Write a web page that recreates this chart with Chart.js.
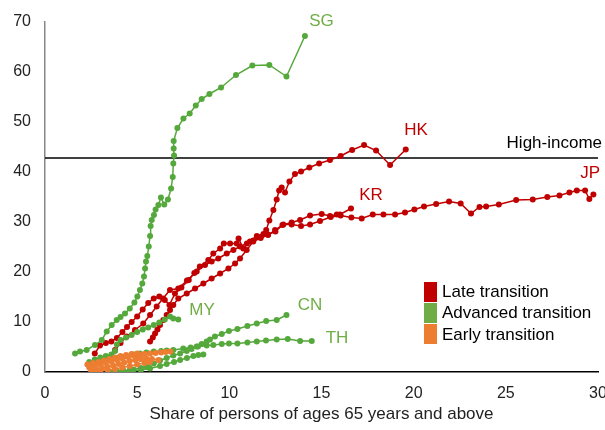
<!DOCTYPE html>
<html>
<head>
<meta charset="utf-8">
<script src="https://cdn.jsdelivr.net/npm/chart.js@4"></script>
<style>body{margin:0;background:#fff}</style>
</head>
<body>
<canvas id="chart" width="605" height="430"></canvas>
<script>
// [share 65+, ratio] pairs
const SG = [[1.63,3.7],[1.9,4.1],[2.26,4.4],[2.71,5.4],[3.08,6.4],[3.35,8.1],[3.62,9.4],[3.89,10.4],[4.1,11.0],[4.34,11.7],[4.6,12.7],[4.85,13.9],[5.01,15.1],[5.15,16.4],[5.28,17.7],[5.37,19.1],[5.43,20.7],[5.48,22.1],[5.55,23.2],[5.63,25.1],[5.7,27.2],[5.73,29.2],[5.79,30.4],[5.91,31.4],[6.0,32.5],[6.15,33.4],[6.29,34.9],[6.47,33.5],[6.67,34.5],[6.84,36.7],[6.93,39.0],[6.96,41.7],[7.0,43.3],[6.98,44.7],[6.98,46.2],[7.18,48.8],[7.51,50.7],[7.85,51.7],[8.18,53.3],[8.5,54.6],[8.92,55.6],[9.55,56.9],[10.36,59.4],[11.25,61.3],[12.17,61.4],[13.1,59.1],[14.1,67.2]];
const MY = [[2.4,2.0],[2.7,2.5],[3.0,2.9],[3.3,3.2],[3.6,3.5],[3.8,4.2],[3.9,5.5],[4.1,6.4],[4.4,6.9],[4.7,7.4],[5.0,8.0],[5.3,8.5],[5.6,8.9],[5.9,9.4],[6.2,9.9],[6.5,10.5],[6.78,11.1],[6.96,10.7],[7.23,10.5]];
const CN = [[3.5,0.1],[3.9,0.2],[4.25,0.3],[4.6,0.4],[4.8,0.5],[5.2,0.8],[5.5,1.1],[5.9,1.7],[6.24,2.3],[6.6,2.8],[6.96,3.3],[7.33,3.7],[7.69,4.2],[7.95,4.6],[8.23,5.1],[8.5,5.6],[8.77,6.1],[8.95,6.5],[9.22,7.1],[9.59,7.6],[9.98,8.2],[10.44,8.6],[10.98,9.2],[11.49,9.7],[12.0,10.2],[12.57,10.4],[13.1,11.4]];
const TH = [[2.44,1.4],[2.8,1.8],[3.2,2.2],[3.6,2.6],[4.0,2.9],[4.4,3.2],[4.8,3.5],[5.15,3.7],[5.5,3.9],[5.9,4.1],[6.3,4.2],[6.6,4.3],[6.96,4.4],[7.5,4.7],[7.9,4.9],[8.3,5.1],[8.77,5.3],[9.13,5.4],[9.59,5.6],[9.98,5.7],[10.44,5.7],[10.98,5.9],[11.49,6.1],[11.99,6.3],[12.57,6.5],[13.17,6.6],[13.84,6.2],[14.47,6.2]];
const VN = [[3.7,0.0],[4.2,0.1],[4.7,0.2],[5.2,0.4],[5.7,0.7],[6.24,1.2],[6.6,1.6],[7.0,2.0],[7.33,2.4],[7.7,2.8],[8.05,3.2],[8.32,3.4],[8.59,3.5]];
const HK = [[2.7,3.7],[2.98,5.3],[3.3,5.8],[3.6,6.1],[3.9,6.8],[4.2,8.0],[4.45,9.0],[4.7,10.0],[5.0,11.1],[5.3,12.5],[5.6,13.8],[5.9,14.7],[6.2,15.1],[6.5,14.4],[6.75,13.4],[7.05,15.7],[7.4,16.9],[7.8,18.4],[8.1,19.8],[8.4,21.1],[8.86,22.4],[9.13,23.7],[9.5,24.7],[9.7,25.7],[10.04,25.7],[10.4,25.7],[10.5,26.7],[10.76,24.7],[11.12,26.1],[11.49,27.2],[11.85,27.6],[12.0,28.4],[12.17,30.3],[12.39,32.4],[12.57,34.5],[12.7,36.3],[12.84,36.9],[13.02,35.9],[13.26,38.1],[13.56,39.6],[13.89,40.1],[14.34,40.9],[14.87,41.7],[15.46,42.4],[16.04,43.2],[16.66,44.4],[17.31,45.4],[17.96,44.3],[18.72,41.4],[19.57,44.5]];
const KR = [[3.45,2.4],[3.8,4.4],[4.1,5.8],[4.43,7.1],[4.88,8.4],[5.33,9.7],[5.7,11.4],[6.06,13.1],[6.4,14.7],[6.78,16.4],[7.23,16.7],[7.7,18.3],[8.23,20.1],[8.68,21.4],[9.04,22.1],[9.4,22.7],[9.86,23.7],[10.22,24.4],[10.58,25.1],[10.95,25.7],[11.3,26.3],[11.7,27.0],[12.1,27.5],[12.5,28.1],[12.88,29.4],[13.38,29.9],[13.84,30.4],[14.38,31.3],[15.01,31.6],[15.46,31.2],[15.83,31.5],[16.0,31.5],[16.6,32.7]];
const JP = [[5.7,6.1],[5.85,6.9],[5.97,7.7],[6.1,8.5],[6.24,9.4],[6.42,10.4],[6.6,11.4],[6.78,12.4],[6.96,13.4],[7.23,14.7],[7.69,15.7],[8.14,16.7],[8.59,17.7],[9.04,18.7],[9.5,19.7],[9.95,20.7],[10.31,21.7],[10.58,22.7],[10.94,24.4],[11.3,26.1],[11.7,26.8],[12.1,27.4],[12.48,28.4],[12.93,29.5],[13.38,29.5],[13.89,29.2],[14.38,29.5],[14.92,30.2],[15.5,31.0],[16.04,31.3],[16.62,30.9],[17.18,30.7],[17.78,31.5],[18.36,31.5],[18.99,31.5],[19.53,31.9],[20.04,32.5],[20.56,33.1],[21.22,33.6],[21.92,34.1],[22.55,33.7],[23.11,31.7],[23.57,33.0],[23.93,33.1],[24.62,33.5],[25.56,34.4],[26.46,34.5],[27.25,35.0],[27.91,35.3],[28.45,35.9],[28.85,36.3],[29.3,36.3],[29.53,34.6],[29.75,35.5]];
const early1 = [[2.4,0.9],[2.7,1.2],[3.0,1.5],[3.3,1.8],[3.6,2.1],[3.9,2.4],[4.2,2.7],[4.5,3.0],[4.8,3.3],[5.1,3.5],[5.4,3.6],[5.7,3.7],[6.0,3.8],[6.3,3.9],[6.55,4.0],[6.8,4.1]];
const early2 = [[2.5,0.3],[2.8,0.5],[3.1,0.8],[3.4,1.0],[3.7,1.3],[4.0,1.6],[4.3,1.9],[4.6,2.2],[4.9,2.4],[5.2,2.6],[5.5,2.7],[5.8,2.6],[6.15,2.4]];
const early3 = [[2.3,1.5],[2.6,1.8],[2.9,2.0],[3.2,2.3],[3.5,2.6],[3.8,2.9],[4.1,3.2],[4.4,3.4],[4.7,3.6],[5.0,3.7],[5.2,3.3],[5.0,2.9],[5.2,2.6]];
const early4 = [[2.6,0.1],[3.0,0.2],[3.4,0.4],[3.8,0.6],[4.2,0.9],[4.6,1.2],[5.0,1.5],[5.4,1.8],[5.7,2.0]];
const highIncome = 42.8;

const groups = ['Late transition', 'Advanced transition', 'Early transition'];
const RED = '#C00000', GREEN = '#55A83B', ORANGE = '#ED7D31';
const groupColors = [RED, '#70AD47', ORANGE];

// name, x, y, colour (label placement in data units)
const tags = [
  ['SG', 15.0, 70.2, '#70AD47'],
  ['HK', 20.13, 48.4, RED],
  ['JP', 29.57, 39.7, RED],
  ['KR', 17.69, 35.4, RED],
  ['MY', 8.52, 12.4, '#70AD47'],
  ['CN', 14.38, 13.4, '#70AD47'],
  ['TH', 15.84, 6.8, '#70AD47']
];

const pts = a => a.map(([x, y]) => ({x, y}));
const series = (data, color) => ({
  data: pts(data),
  borderColor: color,
  backgroundColor: color,
  borderWidth: 1.5,
  pointRadius: 3,
  pointBorderWidth: 0,
  pointHoverRadius: 3,
  tension: 0
});

const FONT = '"Liberation Sans", Arial, sans-serif';

const annotate = {
  id: 'annotate',
  afterDatasetsDraw(chart) {
    const {ctx, scales: {x, y}} = chart;
    ctx.save();
    ctx.font = '17px ' + FONT;
    ctx.textBaseline = 'middle';
    ctx.textAlign = 'center';
    tags.forEach(([t, vx, vy, c]) => {
      ctx.fillStyle = c;
      ctx.fillText(t, x.getPixelForValue(vx), y.getPixelForValue(vy));
    });
    ctx.textAlign = 'right';
    ctx.fillStyle = '#000';
    ctx.fillText('High-income', 602, y.getPixelForValue(highIncome) - 15);

    // legend
    ctx.textAlign = 'left';
    const rows = [[282, 292], [303, 313], [324, 335]];
    groups.forEach((g, i) => {
      ctx.fillStyle = groupColors[i];
      ctx.fillRect(424, rows[i][0], 13, 20);
      ctx.fillStyle = '#000';
      ctx.fillText(g, 442, rows[i][1]);
    });
    ctx.restore();
  }
};

new Chart(document.getElementById('chart'), {
  type: 'line',
  data: {
    datasets: [
      series(early1, ORANGE),
      series(early2, ORANGE),
      series(early3, ORANGE),
      series(early4, ORANGE),
      series(SG, GREEN),
      series(MY, GREEN),
      series(CN, GREEN),
      series(TH, GREEN),
      series(VN, GREEN),
      series(HK, RED),
      series(KR, RED),
      series(JP, RED),
      {
        data: [{x: 0, y: highIncome}, {x: 30, y: highIncome}],
        borderColor: '#000',
        borderWidth: 1.3,
        pointRadius: 0
      }
    ]
  },
  options: {
    responsive: false,
    animation: false,
    layout: { padding: { top: 22, right: 7, left: 0, bottom: 0 } },
    plugins: {
      legend: { display: false },
      tooltip: { enabled: false }
    },
    scales: {
      x: {
        type: 'linear',
        min: 0,
        max: 30,
        ticks: { stepSize: 5, color: '#222', padding: 12, font: { family: FONT, size: 16 } },
        grid: { display: false, drawTicks: false },
        border: { color: '#000', width: 1.5 },
        title: {
          display: true,
          text: 'Share of persons of ages 65 years and above',
          color: '#222',
          font: { family: FONT, size: 17 },
          padding: { top: 0, bottom: 5 }
        },
        afterFit(s) { s.height = 58; s.paddingLeft = 0; s.paddingRight = 0; }
      },
      y: {
        min: 0,
        max: 70,
        ticks: { stepSize: 10, color: '#222', padding: 14, font: { family: FONT, size: 16 } },
        grid: { display: false, drawTicks: false },
        border: { color: '#888', width: 1.5 },
        afterFit(s) { s.width = 45; s.paddingTop = 0; s.paddingBottom = 0; }
      }
    }
  },
  plugins: [annotate]
});
</script>
</body>
</html>
